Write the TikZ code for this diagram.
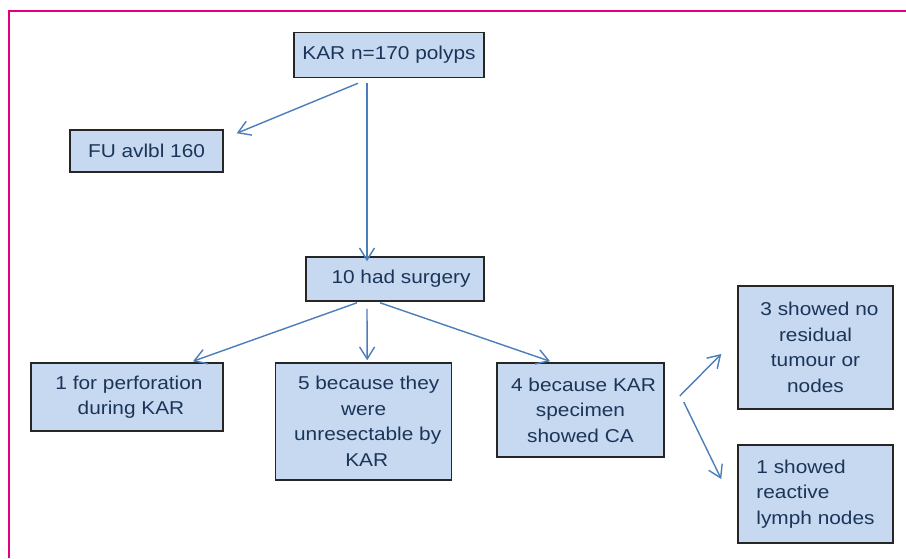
\documentclass[tikz,border=0pt]{standalone}
\usepackage{fontspec}
\setmainfont{Liberation Sans}[FakeStretch=1.12]
\usepackage{xcolor}
\usetikzlibrary{arrows.meta}
\usetikzlibrary{positioning}

\definecolor{boxfill}{HTML}{C6D9F1}
\definecolor{boxtext}{HTML}{1B3558}
\definecolor{arrowblue}{HTML}{4A7EBB}
\definecolor{framepink}{HTML}{E4007C}

\tikzset{
  flowbox/.style={draw=black!85, line width=1.5pt, fill=boxfill, text=boxtext,
    align=center, inner sep=0pt, font=\fontsize{18.6}{25.5}\selectfont},
  flowarrow/.style={draw=arrowblue, line width=1.4pt,
    -{Straight Barb[length=12pt,width=15pt]}}
}

\begin{document}
\begin{tikzpicture}[x=1pt,y=-1pt]
\useasboundingbox (0,0) rectangle (906,558);
\draw [framepink, line width=2pt] (8.5,558) -- (8.5,11) -- (906,11);

\node [flowbox, minimum width=190pt, minimum height=45pt] (kar) at (389,55) {KAR n=170 polyps};
\node [flowbox, minimum width=153pt, minimum height=42pt] (fu) at (146.5,151) {FU avlbl 160};
\node [flowbox, minimum width=178pt, minimum height=44pt] (surg) at (395,279) {\hspace*{12pt}10 had surgery};
\node [flowbox, minimum width=192pt, minimum height=68pt] (perf) at (127,397) {\hspace*{4pt}1 for perforation\\\hspace*{8pt}during KAR};
\node [flowbox, minimum width=176pt, minimum height=117pt] (unres) at (363.7,421.5) {\hspace*{10pt}5 because they\\were\\\hspace*{8pt}unresectable by\\\hspace*{6pt}KAR};
\node [flowbox, minimum width=167pt, minimum height=94pt] (ca) at (580.5,410) {\hspace*{6pt}4 because KAR\\specimen\\showed CA};
\node [flowbox, minimum width=155pt, minimum height=123pt] (nores) at (815.5,347.5) {\hspace*{8pt}3 showed no\\residual\\tumour or\\nodes};
\node [flowbox, minimum width=155pt, minimum height=98pt, align=left] (lymph) at (815.5,494) {1 showed\\reactive\\lymph nodes};

\draw [flowarrow] ([xshift=-31pt,yshift=-5pt]kar.south) -- ([xshift=13pt,yshift=-4pt]fu.north east);
\draw [flowarrow] ([xshift=-22pt,yshift=-5pt]kar.south) -- ([xshift=-28pt,yshift=-5pt]surg.north);
\draw [flowarrow] ([xshift=-38pt,yshift=-1pt]surg.south) -- ([xshift=66pt,yshift=1pt]perf.north);
\draw [flowarrow] ([xshift=-28pt,yshift=-7pt]surg.south) -- ([xshift=3.5pt,yshift=2pt]unres.north);
\draw [flowarrow] ([xshift=-15pt,yshift=-1pt]surg.south) -- ([xshift=-30.5pt,yshift=1pt]ca.north);
\draw [flowarrow] ([xshift=15pt,yshift=14pt]ca.east) -- ([xshift=-16pt,yshift=-6.5pt]nores.west);
\draw [flowarrow] ([xshift=19pt,yshift=8pt]ca.east) -- ([xshift=-16pt,yshift=15pt]lymph.west);
\end{tikzpicture}
\end{document}
